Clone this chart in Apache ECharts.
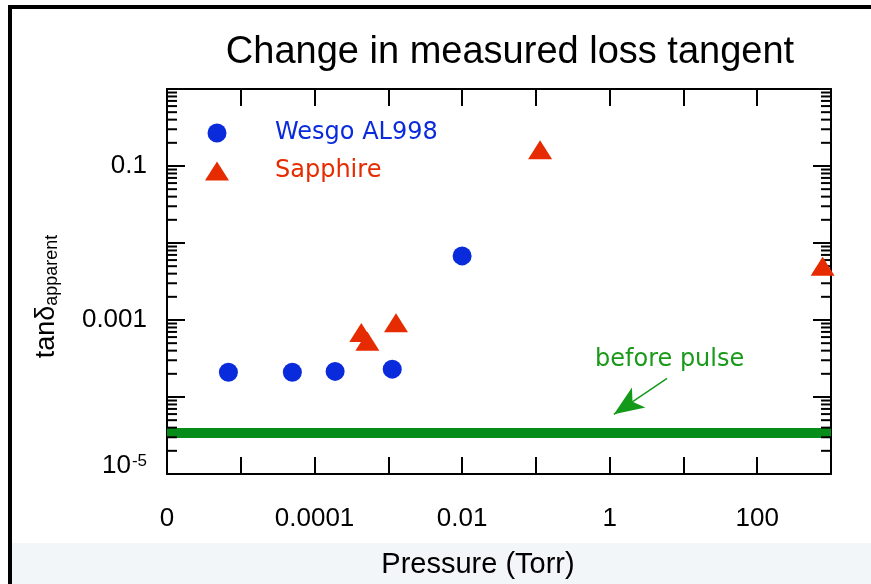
<!DOCTYPE html>
<html>
<head>
<meta charset="utf-8">
<script src="https://cdn.jsdelivr.net/npm/echarts@6/dist/echarts.min.js"></script>
<style>
  html, body { margin: 0; padding: 0; background: #ffffff; }
  #chart { width: 871px; height: 584px; }
</style>
</head>
<body>
<div id="chart"></div>
<script>
// Loss tangent measurements vs. chamber pressure
const wesgoPressure = [6.8e-6, 5.0e-5, 1.9e-4, 1.13e-3, 1.0e-2];
const wesgoTan      = [2.1e-4, 2.1e-4, 2.15e-4, 2.3e-4, 6.8e-3];
const sapphirePressure = [4.3e-4, 5.2e-4, 1.27e-3, 0.114, 770];
const sapphireTan      = [6.9e-4, 5.3e-4, 9.2e-4, 0.163, 5.0e-3];
const beforePulseTan = 3.4e-5;

// Axis extents (decades)
const pressureRange = [1e-6, 1e3];
const tanRange = [1e-5, 1];

// Annotation anchors in data units
const arrowFrom = [6.0, 1.75e-4];
const arrowTo = [1.14, 5.95e-5];
const beforePulseLabelAt = [6.5, 3.0e-4];

const BLUE = '#0a2bdc';
const RED = '#e62b00';
const GREEN = '#068c18';

// log-style minor ticks (2..9 in each decade) for the tanδ axis
const minorTicks = [];
for (let e = Math.log10(tanRange[0]); e < Math.log10(tanRange[1]); e++) {
  for (let k = 2; k <= 9; k++) minorTicks.push([pressureRange[0], k * Math.pow(10, e)]);
}

const zipPts = (xs, ys) => xs.map((x, i) => [x, ys[i]]);
const expOf = v => Math.round(Math.log10(v));

const SANS = 'Liberation Sans, Arial, sans-serif';
const UI = 'DejaVu Sans, Verdana, sans-serif';
const axisLine = { show: true, lineStyle: { color: '#000', width: 2 } };
const majorTick = { show: true, inside: true, length: 17, lineStyle: { color: '#000', width: 2 } };
const numFont = { fontFamily: SANS, fontSize: 26, color: '#000' };

const chart = echarts.init(document.getElementById('chart'), null, { renderer: 'canvas' });

chart.setOption({
  backgroundColor: '#ffffff',
  animation: false,
  title: {
    text: 'Change in measured loss tangent',
    left: 505,
    top: 29,
    textAlign: 'center',
    textStyle: { fontFamily: SANS, fontSize: 38, fontWeight: 'normal', color: '#000' }
  },
  grid: { left: 167, right: 40, top: 89, bottom: 103, containLabel: false },
  legend: {
    orient: 'vertical',
    left: 200,
    top: 116,
    itemWidth: 24,
    itemHeight: 19,
    itemGap: 14,
    selectedMode: false,
    data: [
      { name: 'Wesgo AL998', icon: 'circle', textStyle: { color: BLUE } },
      { name: 'Sapphire', icon: 'triangle', textStyle: { color: RED } }
    ],
    formatter: name => '{gap|}' + name,
    textStyle: {
      fontFamily: UI,
      fontSize: 24,
      rich: { gap: { width: 41 } }
    }
  },
  xAxis: [
    {
      type: 'log', logBase: 10, min: pressureRange[0], max: pressureRange[1], splitNumber: 9,
      position: 'bottom',
      axisLine: axisLine, axisTick: majorTick, splitLine: { show: false },
      axisLabel: Object.assign({
        margin: 32,
        formatter: v => {
          const e = expOf(v);
          if ((e - expOf(pressureRange[0])) % 2 !== 0) return '';
          if (e === expOf(pressureRange[0])) return '0';
          return e < 0 ? Math.pow(10, e).toFixed(-e) : String(Math.pow(10, e));
        }
      }, numFont),
      name: 'Pressure (Torr)',
      nameLocation: 'middle',
      nameGap: 76,
      nameTextStyle: { fontFamily: SANS, fontSize: 29, color: '#000', padding: [0, 42, 0, 0] }
    },
    {
      type: 'log', logBase: 10, min: pressureRange[0], max: pressureRange[1], splitNumber: 9,
      position: 'top',
      axisLine: axisLine, axisTick: majorTick, splitLine: { show: false },
      axisLabel: { show: false }
    }
  ],
  yAxis: [
    {
      type: 'log', logBase: 10, min: tanRange[0], max: tanRange[1], splitNumber: 5,
      position: 'left',
      axisLine: axisLine, axisTick: Object.assign({}, majorTick, { length: 18 }), splitLine: { show: false },
      axisLabel: Object.assign({
        margin: 20,
        formatter: v => {
          const e = expOf(v);
          if ((e - expOf(tanRange[0])) % 2 !== 0) return '';
          if (e === expOf(tanRange[0])) return '{b|10}{sup|' + e + '}';
          return Math.pow(10, e).toFixed(-e);
        },
        rich: {
          b: { fontFamily: SANS, fontSize: 26, color: '#000', verticalAlign: 'top', padding: [0, 0, 16, 0] },
          sup: { fontFamily: SANS, fontSize: 17, color: '#000', verticalAlign: 'top', padding: [0, 0, 0, 1] }
        }
      }, numFont),
      name: '{a|tanδ}{sub|apparent}',
      nameLocation: 'middle',
      nameRotate: 90,
      nameGap: 106,
      nameTextStyle: {
        padding: [0, 30, 0, 0],
        rich: {
          a: { fontFamily: SANS, fontSize: 27, color: '#000', verticalAlign: 'top', lineHeight: 28 },
          sub: { fontFamily: SANS, fontSize: 18, color: '#000', verticalAlign: 'bottom', lineHeight: 18, padding: [17, 0, 0, 0] }
        }
      }
    },
    {
      type: 'log', logBase: 10, min: tanRange[0], max: tanRange[1], splitNumber: 5,
      position: 'right',
      axisLine: axisLine, axisTick: Object.assign({}, majorTick, { length: 18 }), splitLine: { show: false },
      axisLabel: { show: false }
    }
  ],
  series: [
    {
      name: 'minor ticks',
      type: 'custom',
      silent: true,
      clip: false,
      z: 3,
      data: minorTicks,
      renderItem: (params, api) => {
        const l = api.coord([pressureRange[0], api.value(1)]);
        const r = api.coord([pressureRange[1], api.value(1)]);
        const st = { stroke: '#000', lineWidth: 2 };
        return {
          type: 'group',
          children: [
            { type: 'line', shape: { x1: l[0], y1: l[1], x2: l[0] + 10, y2: l[1] }, style: st },
            { type: 'line', shape: { x1: r[0], y1: r[1], x2: r[0] - 10, y2: r[1] }, style: st }
          ]
        };
      }
    },
    {
      name: 'before pulse',
      type: 'line',
      silent: true,
      symbol: 'none',
      z: 2,
      data: [[pressureRange[0], beforePulseTan], [pressureRange[1], beforePulseTan]],
      lineStyle: { color: GREEN, width: 10 },
      markLine: {
        silent: true,
        symbol: ['none', 'arrow'],
        symbolSize: [18, 30],
        label: { show: false },
        lineStyle: { color: '#139a1a', width: 1.5, type: 'solid' },
        data: [[{ coord: arrowFrom }, { coord: arrowTo }]]
      },
      markPoint: {
        silent: true,
        symbol: 'circle',
        symbolSize: 0,
        label: {
          show: true,
          position: 'inside',
          formatter: 'before pulse',
          fontFamily: UI,
          fontSize: 24,
          color: '#1a9a1a'
        },
        data: [{ coord: beforePulseLabelAt }]
      }
    },
    {
      name: 'Wesgo AL998',
      type: 'scatter',
      symbol: 'circle',
      symbolSize: 19,
      itemStyle: { color: BLUE, opacity: 1 },
      z: 4,
      data: zipPts(wesgoPressure, wesgoTan)
    },
    {
      name: 'Sapphire',
      type: 'scatter',
      symbol: 'triangle',
      symbolSize: [24, 19],
      itemStyle: { color: RED, opacity: 1 },
      z: 4,
      clip: false,
      data: zipPts(sapphirePressure, sapphireTan)
    }
  ],
  graphic: [
    { type: 'rect', z: -10, silent: true, shape: { x: 12, y: 543, width: 859, height: 41 }, style: { fill: '#f2f6f8' } },
    { type: 'rect', z: 10, silent: true, shape: { x: 8, y: 5, width: 4, height: 579 }, style: { fill: '#000' } },
    { type: 'rect', z: 10, silent: true, shape: { x: 8, y: 5, width: 863, height: 4 }, style: { fill: '#000' } }
  ]
});
</script>
</body>
</html>
